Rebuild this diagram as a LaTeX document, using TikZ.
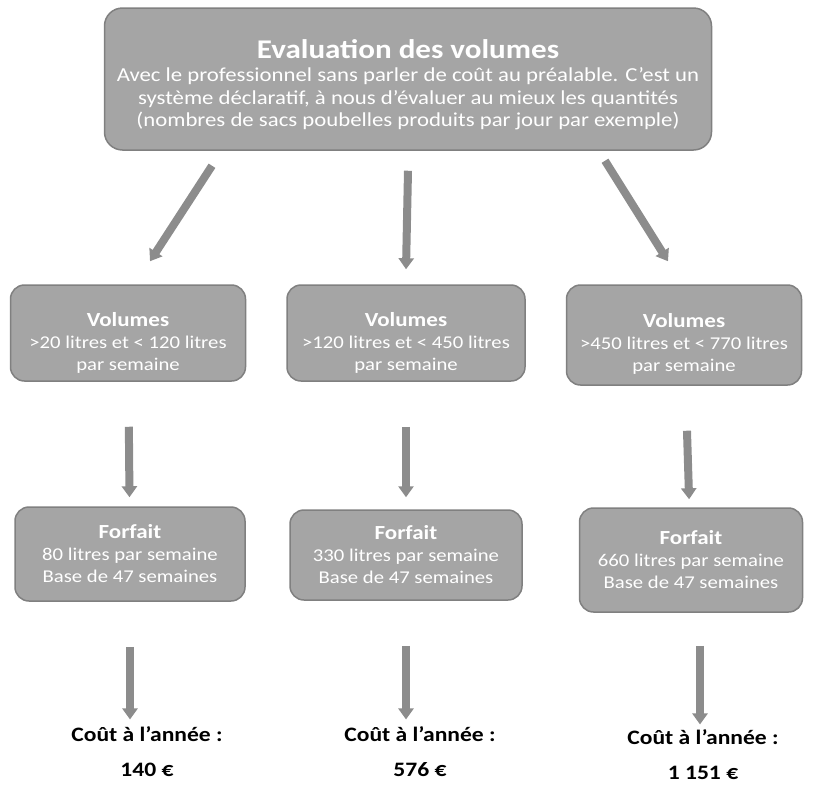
\documentclass[tikz,border=0pt]{standalone}
\usepackage{fontspec}
\setmainfont{Carlito}[FakeStretch=1.15]
\usepackage{tikz}
\usetikzlibrary{arrows.meta,positioning}

\definecolor{boxfill}{RGB}{165,165,165}
\definecolor{boxline}{RGB}{128,128,128}
\definecolor{arrowgray}{RGB}{140,140,140}

\tikzset{
  graybox/.style={rectangle, rounded corners=18pt, fill=boxfill, draw=boxline,
    line width=1.5pt, text=white, align=center, inner sep=0pt},
  evalbox/.style={graybox, minimum width=607pt, minimum height=142pt,
    font=\fontsize{19.8}{22.5}\selectfont},
  volbox/.style={graybox, rounded corners=14pt, minimum width=235pt, minimum height=96pt,
    font=\fontsize{18}{22}\selectfont},
  forfaitbox/.style={graybox, rounded corners=14pt, minimum width=230pt, minimum height=94pt,
    font=\fontsize{18}{22}\selectfont},
  costlabel/.style={align=center, font=\fontsize{20.5}{35}\selectfont\bfseries},
  flowarrow/.style={draw=arrowgray, line width=8pt,
    -{Triangle[width=15pt,length=11pt]}},
}
\newcommand{\boxhead}[2][0pt]{\rule{0pt}{#1}{\bfseries\fontsize{20}{22}\selectfont #2}}

\begin{document}
\begin{tikzpicture}[x=1pt, y=-1pt]
    \useasboundingbox (0,0) rectangle (814,793);

    % Evaluation box at the top
    \node[evalbox] (eval) at (408,79)
      {\rule{0pt}{30pt}{\fontsize{27}{28}\selectfont\bfseries Evaluation des volumes}\\[1pt]
       Avec le professionnel sans parler de coût au préalable. C'est un\\
       système déclaratif, à nous d'évaluer au mieux les quantités\\
       (nombres de sacs poubelles produits par jour par exemple)};

    % Volume boxes
    \node[volbox] (vol1) at (128,333)
      {\boxhead[34pt]{Volumes}\\ >20 litres et < 120 litres\\ par semaine};
    \node[volbox, minimum width=238pt] (vol2) at (406,333)
      {\boxhead[34pt]{Volumes}\\ >120 litres et < 450 litres\\ par semaine};
    \node[volbox, minimum height=100pt] (vol3) at (684,335)
      {\boxhead[32pt]{Volumes}\\ >450 litres et < 770 litres\\ par semaine};

    % Forfait boxes
    \node[forfaitbox] (forf1) at (130,554)
      {\boxhead{Forfait}\\ 80 litres par semaine\\ Base de 47 semaines};
    \node[forfaitbox, minimum width=232pt, minimum height=90pt] (forf2) at (406,555)
      {\boxhead{Forfait}\\ 330 litres par semaine\\ Base de 47 semaines};
    \node[forfaitbox, minimum width=223pt, minimum height=104pt] (forf3) at (691,560)
      {\boxhead{Forfait}\\ 660 litres par semaine\\ Base de 47 semaines};

    % Yearly costs
    \node[costlabel] (cost1) at (147,752) {Coût à l'année :\\ 140 €};
    \node[costlabel] (cost2) at (420,752) {Coût à l'année :\\ 576 €};
    \node[costlabel] (cost3) at (703,755) {Coût à l'année :\\ 1 151 €};

    % Arrows from the evaluation box
    \draw[flowarrow] ([xshift=-196pt,yshift=-15pt]eval.south) -- ([xshift=22pt,yshift=23pt]vol1.north);
    \draw[flowarrow] ([yshift=-20pt]eval.south) -- ([yshift=15pt]vol2.north);
    \draw[flowarrow] ([xshift=197pt,yshift=-10pt]eval.south) -- ([xshift=-16pt,yshift=23pt]vol3.north);

    % Arrows down the columns
    \draw[flowarrow, shorten <=45pt, shorten >=9pt] (vol1) -- (forf1);
    \draw[flowarrow, shorten <=45pt, shorten >=12pt] (vol2) -- (forf2);
    \draw[flowarrow, shorten <=45pt, shorten >=8pt] (vol3) -- (forf3);
    \draw[flowarrow, shorten <=45pt, shorten >=4pt] (forf1.south) -- (forf1.south |- cost1.north);
    \draw[flowarrow, shorten <=45pt, shorten >=4pt] (forf2.south) -- (forf2.south |- cost2.north);
    \draw[flowarrow, shorten <=33pt, shorten >=2pt] ([xshift=9pt]forf3.south) -- ([xshift=9pt]forf3.south |- cost3.north);
\end{tikzpicture}
\end{document}
